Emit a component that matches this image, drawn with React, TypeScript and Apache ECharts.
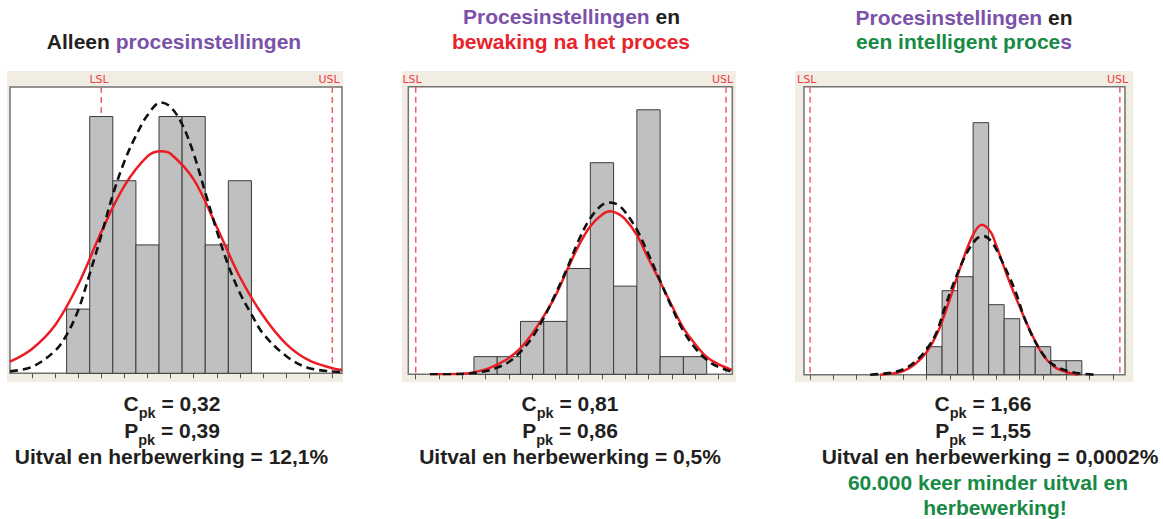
import React, { useEffect, useRef } from 'react';
import * as echarts from 'echarts';

// ---------- data ----------
const tickValues = [0, 1, 2, 3, 4, 5, 6, 7, 8, 9, 10, 11, 12, 13];

// Panel 1: Alleen procesinstellingen
const p1Edges = [1.5, 2.5, 3.5, 4.5, 5.5, 6.5, 7.5, 8.5, 9.5];
const p1Counts = [1, 4, 3, 2, 4, 4, 2, 3];
const p1Spec = [3, 13];
const p1Within = [
  [-0.95, 0.18], [0, 0.38], [1, 0.75], [2, 1.38], [3, 2.2], [4, 2.92], [5, 3.38],
  [5.58, 3.46], [6, 3.42], [7, 3.02], [8, 2.28], [9, 1.5], [10, 0.9], [11, 0.46],
  [12, 0.2], [13, 0.08], [13.42, 0.05],
];
const p1Overall = [
  [-0.95, 0.03], [0, 0.1], [1, 0.35], [1.5, 0.6], [2, 0.98], [2.5, 1.55], [3, 2.15],
  [3.5, 2.78], [4, 3.3], [4.5, 3.7], [5, 4.02], [5.58, 4.22], [6, 4.15], [6.5, 3.88],
  [7, 3.42], [7.5, 2.82], [8, 2.22], [8.5, 1.68], [9, 1.25], [9.5, 0.92], [10, 0.62],
  [11, 0.27], [12, 0.08], [13.42, 0.02],
];

// Panel 2: Procesinstellingen en bewaking na het proces
const p2Edges = [2.5, 3.5, 4.5, 5.5, 6.5, 7.5, 8.5, 9.5, 10.5, 11.5, 12.5];
const p2Counts = [1, 1, 3, 3, 6, 12, 5, 15, 1, 1];
const p2Spec = [0, 13.33];
const p2Within = [
  [0.61, 0.0], [2, 0.03], [3, 0.28], [3.5, 0.55], [4, 0.92], [4.5, 1.48], [5, 2.3],
  [5.5, 3.3], [6, 4.45], [6.5, 5.9], [7, 7.3], [7.5, 8.4], [8, 9.05], [8.35, 9.24],
  [8.7, 9.1], [9, 8.8], [9.5, 7.9], [10, 6.55], [10.5, 5.25], [11, 3.9], [11.5, 2.62],
  [12, 1.72], [12.5, 0.98], [13, 0.58], [13.58, 0.25],
];
const p2Overall = [
  [0.61, 0.0], [2, 0.02], [3, 0.18], [3.5, 0.38], [4, 0.7], [4.5, 1.28], [5, 2.08],
  [5.5, 3.2], [6, 4.55], [6.5, 6.0], [7, 7.6], [7.5, 8.85], [8, 9.6], [8.35, 9.74],
  [8.7, 9.6], [9, 9.2], [9.5, 8.2], [10, 6.8], [10.5, 5.3], [11, 3.8], [11.5, 2.45],
  [12, 1.5], [12.5, 0.82], [13, 0.42], [13.58, 0.15],
];

// Panel 3: Procesinstellingen en een intelligent proces
const p3Edges = [5.0, 5.667, 6.333, 7.0, 7.667, 8.333, 9.0, 9.667, 10.333, 11.0, 11.667];
const p3Counts = [2, 6, 7, 18, 5, 4, 2, 2, 1, 1];
const p3Spec = [0, 13.3];
const p3Within = [
  [3.0, 0.0], [3.5, 0.08], [4.0, 0.25], [4.5, 0.75], [5.0, 1.6], [5.5, 3.1], [6.0, 5.4],
  [6.5, 7.9], [7.0, 10.0], [7.37, 10.71], [7.75, 10.2], [8.0, 9.2], [8.5, 6.9],
  [9.0, 4.85], [9.5, 2.95], [10.0, 1.4], [10.5, 0.55], [11.0, 0.19], [11.52, 0.0],
];
const p3Overall = [
  [2.58, 0.0], [3.0, 0.05], [3.65, 0.19], [4.2, 0.55], [4.65, 1.14], [5.0, 1.8],
  [5.4, 2.9], [5.8, 4.85], [6.2, 6.7], [6.7, 8.6], [7.15, 9.71], [7.44, 9.9],
  [7.8, 9.48], [8.2, 8.25], [8.8, 6.02], [9.25, 3.85], [9.8, 1.98], [10.37, 0.79],
  [11.22, 0.19], [12.23, 0.0],
];

const p1Stats = ['0,32', '0,39', '12,1%'];
const p2Stats = ['0,81', '0,86', '0,5%'];
const p3Stats = ['1,66', '1,55', '0,0002%'];

// ---------- styling ----------
const FONT = "'Liberation Sans', Arial, Helvetica, sans-serif";
const DARK = '#231f20';
const PURPLE = '#7b52a8';
const RED = '#e8232a';
const GREEN = '#178a45';
const BEIGE = '#f2ede3';

const panels = [
  {
    grid: { left: 10, top: 87, width: 332, height: 286.3 },
    xMin: -0.95, xMax: 13.42, yMax: 4.46,
    edges: p1Edges, counts: p1Counts, spec: p1Spec, within: p1Within, overall: p1Overall,
    frame: { x: 7, y: 71, width: 336, height: 311 },
    specLabels: [{ t: 'LSL', x: 99 }, { t: 'USL', x: 329 }],
  },
  {
    grid: { left: 408.3, top: 86.7, width: 324, height: 287.6 },
    xMin: -0.32, xMax: 13.6, yMax: 16.31,
    edges: p2Edges, counts: p2Counts, spec: p2Spec, within: p2Within, overall: p2Overall,
    frame: { x: 401.7, y: 71, width: 334, height: 311 },
    specLabels: [{ t: 'LSL', x: 412 }, { t: 'USL', x: 722.5 }],
  },
  {
    grid: { left: 804, top: 86.7, width: 321, height: 288 },
    xMin: -0.26, xMax: 13.52, yMax: 20.57,
    edges: p3Edges, counts: p3Counts, spec: p3Spec, within: p3Within, overall: p3Overall,
    frame: { x: 795, y: 71, width: 338.3, height: 311 },
    specLabels: [{ t: 'LSL', x: 806.7 }, { t: 'USL', x: 1117.5 }],
  },
];

const tok = (fill: string) => ({ fill, fontSize: 21, fontWeight: 'bold', fontFamily: FONT, lineHeight: 18 });
const baseRich = {
  k: tok(DARK),
  p: tok(PURPLE),
  r: tok(RED),
  g: tok(GREEN),
  s: { fill: DARK, fontSize: 14.5, fontWeight: 'bold', fontFamily: FONT, lineHeight: 12, padding: [19, 0, 0, 0] },
};

function richText(text: string, x: number, y: number) {
  return {
    type: 'text',
    x,
    y,
    z: 10,
    style: {
      text,
      rich: baseRich,
      fill: DARK,
      fontSize: 21,
      fontWeight: 'bold',
      fontFamily: FONT,
      align: 'center',
      verticalAlign: 'middle',
    },
  };
}

function statTexts(stats: string[], cx: number, cxU: number) {
  return [
    richText(`{k|C}{s|pk}{k| = ${stats[0]}}`, cx, 403),
    richText(`{k|P}{s|pk}{k| = ${stats[1]}}`, cx, 430.5),
    richText(`{k|Uitval en herbewerking = ${stats[2]}}`, cxU, 456),
  ];
}

function buildOption() {
  const grid: any[] = [];
  const xAxis: any[] = [];
  const yAxis: any[] = [];
  const series: any[] = [];
  const graphics: any[] = [];

  panels.forEach((p, i) => {
    grid.push({
      ...p.grid,
      show: true,
      backgroundColor: '#ffffff',
      borderColor: '#727272',
      borderWidth: 1.5,
      containLabel: false,
    });
    xAxis.push({
      type: 'value',
      gridIndex: i,
      min: p.xMin,
      max: p.xMax,
      axisLine: { show: false, onZero: false },
      axisTick: {
        show: true,
        inside: false,
        length: 5,
        customValues: tickValues,
        lineStyle: { color: '#555555', width: 1 },
      },
      axisLabel: { show: false },
      splitLine: { show: false },
    });
    yAxis.push({
      type: 'value',
      gridIndex: i,
      min: 0,
      max: p.yMax,
      show: false,
      splitLine: { show: false },
    });

    series.push({
      type: 'custom',
      xAxisIndex: i,
      yAxisIndex: i,
      z: 1,
      data: p.spec.map((v) => [v, 0]),
      encode: { x: 0, y: 1 },
      renderItem: (params: any, api: any) => {
        const cs = params.coordSys;
        const x = api.coord([api.value(0), 0])[0];
        return {
          type: 'line',
          shape: { x1: x, y1: cs.y, x2: x, y2: cs.y + cs.height },
          style: { stroke: '#f0606a', lineWidth: 1.5, lineDash: [6, 4] },
        };
      },
    });

    series.push({
      type: 'custom',
      xAxisIndex: i,
      yAxisIndex: i,
      z: 2,
      data: p.counts.map((c, j) => [p.edges[j], p.edges[j + 1], c]),
      encode: { x: [0, 1], y: 2 },
      renderItem: (params: any, api: any) => {
        const a = api.coord([api.value(0), 0]);
        const b = api.coord([api.value(1), api.value(2)]);
        return {
          type: 'rect',
          shape: { x: a[0], y: b[1], width: b[0] - a[0], height: a[1] - b[1] },
          style: { fill: '#c0c0c0', stroke: '#3a3a3a', lineWidth: 1 },
        };
      },
    });

    series.push({
      type: 'line',
      xAxisIndex: i,
      yAxisIndex: i,
      z: 3,
      data: p.within,
      smooth: 0.35,
      symbol: 'none',
      lineStyle: { color: '#ec1c24', width: 2.5 },
    });
    series.push({
      type: 'line',
      xAxisIndex: i,
      yAxisIndex: i,
      z: 4,
      data: p.overall,
      smooth: 0.35,
      symbol: 'none',
      lineStyle: { color: '#111111', width: 2.6, type: [8, 5] },
    });

    graphics.push({
      type: 'rect',
      z: -1,
      shape: { ...p.frame },
      style: { fill: BEIGE },
    });
    p.specLabels.forEach((l) => {
      graphics.push({
        type: 'text',
        x: l.x,
        y: 79,
        z: 10,
        style: {
          text: l.t,
          fill: '#ee3b44',
          fontSize: 11,
          fontFamily: "'DejaVu Sans', Verdana, sans-serif",
          align: 'center',
          verticalAlign: 'middle',
        },
      });
    });
  });

  // Titles
  graphics.push(richText('{k|Alleen }{p|procesinstellingen}', 174, 41.5));
  graphics.push(richText('{p|Procesinstellingen}{k| en}', 571.5, 16.7));
  graphics.push(richText('{r|bewaking na het proces}', 571, 41));
  graphics.push(richText('{p|Procesinstellingen}{k| en}', 964, 17));
  graphics.push(richText('{g|een intelligent proce}{p|s}', 964, 41));

  // Stats
  graphics.push(...statTexts(p1Stats, 172, 171.5));
  graphics.push(...statTexts(p2Stats, 570, 570));
  graphics.push(...statTexts(p3Stats, 983, 990));
  graphics.push(richText('{g|60.000 keer minder uitval en}', 988, 482.5));
  graphics.push(richText('{g|herbewerking!}', 995, 507.5));

  return {
    animation: false,
    backgroundColor: '#ffffff',
    grid,
    xAxis,
    yAxis,
    series,
    graphic: { elements: graphics },
  };
}

export default function App() {
  const ref = useRef<HTMLDivElement>(null);
  useEffect(() => {
    document.body.style.margin = '0';
    const chart = echarts.init(ref.current as HTMLDivElement, null, { renderer: 'svg' });
    chart.setOption(buildOption() as any);
    return () => {
      chart.dispose();
    };
  }, []);
  return <div ref={ref} style={{ width: 1163, height: 519, position: 'absolute', left: 0, top: 0 }} />;
}
